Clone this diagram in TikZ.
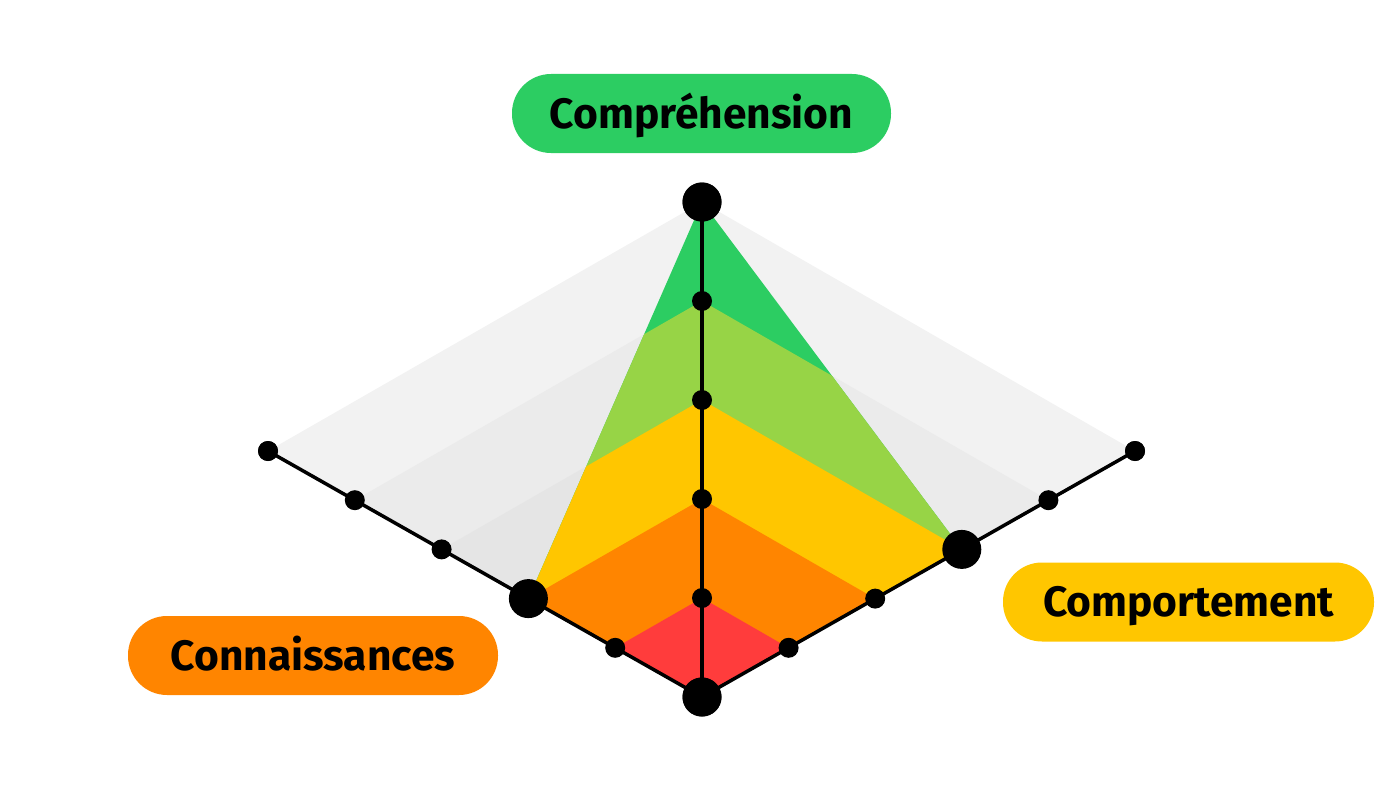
\documentclass[tikz,border=0pt]{standalone}
\usepackage{fontspec}
\setmainfont{Fira Sans}
\definecolor{cgreen}{HTML}{2CCD62}
\definecolor{clime}{HTML}{97D446}
\definecolor{cyellow}{HTML}{FFC600}
\definecolor{corange}{HTML}{FF8500}
\definecolor{cred}{HTML}{FF3C3C}
\definecolor{gA}{HTML}{F2F2F2}
\definecolor{gB}{HTML}{EBEBEB}
\definecolor{gC}{HTML}{E5E5E5}
\begin{document}
\begin{tikzpicture}[x=1pt,y=-1pt,
  axis/.style={line width=3.5pt,black},
  smalldot/.style={circle,fill=black,inner sep=0pt,minimum size=20pt},
  bigdot/.style={circle,fill=black,inner sep=0pt,minimum size=39pt},
  pill/.style={rounded corners=39pt,inner sep=0pt,minimum height=79pt,text height=29pt,text depth=0pt,font=\bfseries\fontsize{42.5}{50}\selectfont,text=black}]
\useasboundingbox (0,0) rectangle (1400,800);
\coordinate (O) at (702,697);
\foreach \k in {1,...,5}{
  \coordinate (L\k) at ({702-86.8*\k},{697-49.2*\k});
  \coordinate (R\k) at ({702+86.6*\k},{697-49.2*\k});
  \coordinate (T\k) at (702,{697-99*\k});
}
% gray level planes
\fill[gA] (O) -- (L5) -- (T5) -- (R5) -- cycle;
\fill[gB] (O) -- (L4) -- (T4) -- (R4) -- cycle;
\fill[gC] (O) -- (L3) -- (T3) -- (R3) -- cycle;
% data polygon
\begin{scope}
  \clip (O) -- (L2) -- (T5) -- (R3) -- cycle;
  \fill[cgreen] (O) -- (L5) -- (T5) -- (R5) -- cycle;
  \fill[clime] (O) -- (L4) -- (T4) -- (R4) -- cycle;
  \fill[cyellow] (O) -- (L3) -- (T3) -- (R3) -- cycle;
  \fill[corange] (O) -- (L2) -- (T2) -- (R2) -- cycle;
  \fill[cred] (O) -- (L1) -- (T1) -- (R1) -- cycle;
\end{scope}
% axis end nodes
\node[bigdot] (o) at (O) {};
\node[smalldot] (l5) at (L5) {};
\node[smalldot] (r5) at (R5) {};
\node[bigdot] (t5) at (T5) {};
\draw[axis] (o.center) -- (l5.center);
\draw[axis] (o.center) -- (r5.center);
\draw[axis] (o.center) -- (t5.center);
% dots on axes
\node[bigdot] at (O) {};
\node[smalldot] (l1) at (L1) {};
\node[bigdot] (l2) at (L2) {};
\node[smalldot] (l3) at (L3) {};
\node[smalldot] (l4) at (L4) {};
\node[smalldot] at (L5) {};
\node[smalldot] (r1) at (R1) {};
\node[smalldot] (r2) at (R2) {};
\node[bigdot] (r3) at (R3) {};
\node[smalldot] (r4) at (R4) {};
\node[smalldot] at (R5) {};
\node[smalldot] (t1) at (T1) {};
\node[smalldot] (t2) at (T2) {};
\node[smalldot] (t3) at (T3) {};
\node[smalldot] (t4) at (T4) {};
\node[bigdot] at (T5) {};
% labels
\node[pill,fill=cgreen,minimum width=379pt] (comp) at (701.5,113.5) {Compréhension};
\node[pill,fill=corange,minimum width=370pt] (conn) at (313,655.5) {Connaissances};
\node[pill,fill=cyellow,minimum width=371pt] (compt) at (1188.5,602) {Comportement};
\end{tikzpicture}
\end{document}
